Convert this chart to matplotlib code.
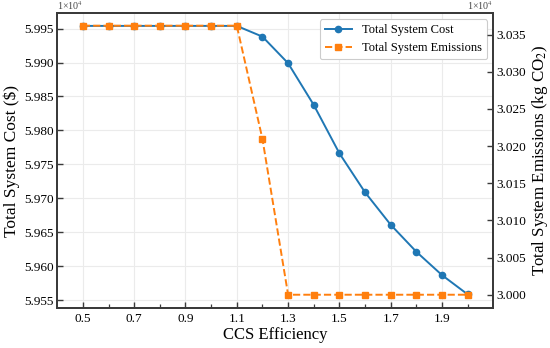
import matplotlib
matplotlib.use("Agg")
import matplotlib.pyplot as plt
from matplotlib.ticker import FixedLocator, FuncFormatter

plt.rcParams['font.family'] = ['Liberation Serif', 'DejaVu Serif']
plt.rcParams['mathtext.fontset'] = 'stix'

efficiency = [0.5, 0.6, 0.7, 0.8, 0.9, 1.0, 1.1, 1.2, 1.3, 1.4, 1.5, 1.6, 1.7, 1.8, 1.9, 2.0]
total_cost = [59954, 59954, 59954, 59954, 59954, 59954, 59954,
              59938.2, 59899.0, 59837.5, 59766.2, 59708.7, 59660.9, 59621.1, 59586.7, 59558.3]
total_emissions = [30362, 30362, 30362, 30362, 30362, 30362, 30362,
                   30209.6, 30000, 30000, 30000, 30000, 30000, 30000, 30000, 30000]
x_major = [0.5, 0.7, 0.9, 1.1, 1.3, 1.5, 1.7, 1.9]
x_minor = [0.6, 0.8, 1.0, 1.2, 1.4, 1.6, 1.8, 2.0]
left_ticks = [59550, 59600, 59650, 59700, 59750, 59800, 59850, 59900, 59950]
right_ticks = [30000, 30050, 30100, 30150, 30200, 30250, 30300, 30350]

blue = '#1f77b4'
orange = '#ff7f0e'
spine_c = '#3a3a3a'

fig = plt.figure(figsize=(5.5, 3.48), dpi=100)
ax = fig.add_axes([0.104, 0.114, 0.793, 0.848])
ax2 = ax.twinx()

l1, = ax.plot(efficiency, total_cost, '-o', color=blue, lw=1.4, ms=4.5, label='Total System Cost', zorder=3)
l2, = ax2.plot(efficiency, total_emissions, '--s', color=orange, lw=1.4, ms=4.5, label='Total System Emissions', zorder=3)

ax.set_xlim(0.4, 2.1)
ax.set_ylim(59537.8, 59972.7)
ax2.set_ylim(29981.7, 30378.8)

ax.xaxis.set_major_locator(FixedLocator(x_major))
ax.xaxis.set_minor_locator(FixedLocator(x_minor))
ax.yaxis.set_major_locator(FixedLocator(left_ticks))
ax2.yaxis.set_major_locator(FixedLocator(right_ticks))
fmt = FuncFormatter(lambda v, p: f"{v/1e4:.3f}")
ax.yaxis.set_major_formatter(fmt)
ax2.yaxis.set_major_formatter(fmt)
ax.xaxis.set_major_formatter(FuncFormatter(lambda v, p: f"{v:.1f}"))

ax.grid(True, which='major', color='#ebebeb', lw=0.8, zorder=0)
ax.set_axisbelow(True)

for a in (ax, ax2):
    for s in a.spines.values():
        s.set_color(spine_c)
        s.set_linewidth(1.3)
    a.tick_params(which='both', direction='in', colors=spine_c, labelcolor='black', labelsize=9.5)
    a.tick_params(which='major', length=4, width=1.0)
    a.tick_params(which='minor', length=3, width=0.9)
ax.tick_params(axis='x', pad=3.5)
ax.tick_params(axis='y', pad=2.5)
ax2.tick_params(axis='y', pad=2.5)

ax.set_xlabel('CCS Efficiency', fontsize=12, labelpad=1)
ax.set_ylabel('Total System Cost ($)', fontsize=12.5, labelpad=3)
ax2.set_ylabel('Total System Emissions (kg CO$_2$)', fontsize=12.2, labelpad=2.5)

ax.text(0.0, 1.003, '1×10$^4$', transform=ax.transAxes, ha='left', va='bottom', fontsize=7.2, color='#444444')
ax.text(1.0, 1.003, '1×10$^4$', transform=ax.transAxes, ha='right', va='bottom', fontsize=7.2, color='#444444')

leg = ax.legend([l1, l2], [l1.get_label(), l2.get_label()], loc='upper right', fontsize=9,
                frameon=True, fancybox=True, edgecolor='#cccccc', framealpha=1.0,
                labelspacing=0.45, handlelength=2.2)
leg.get_frame().set_linewidth(0.8)
leg.set_zorder(5)

fig.savefig('out.png', dpi=100)
